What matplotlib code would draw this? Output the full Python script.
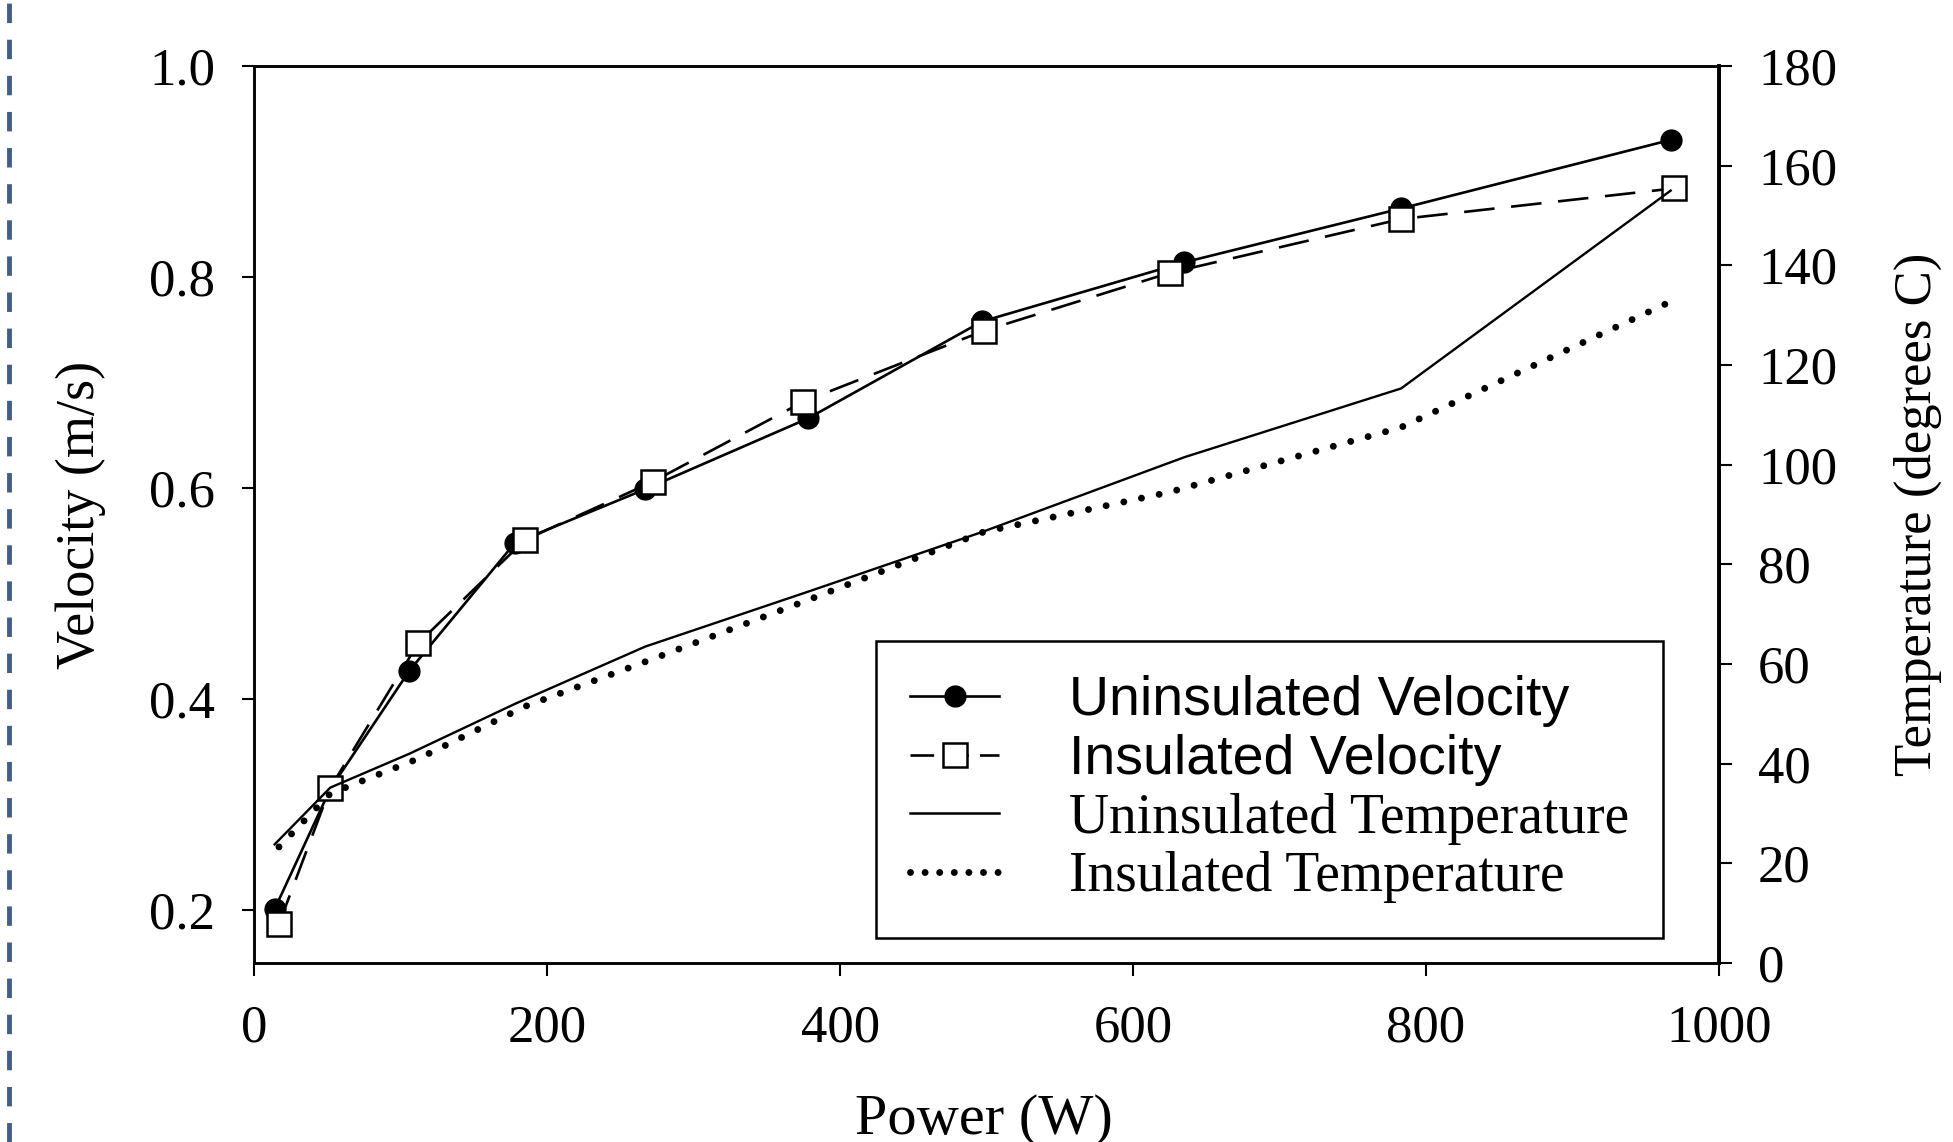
import matplotlib
matplotlib.use('Agg')
import matplotlib.pyplot as plt
from matplotlib.lines import Line2D

plt.rcParams['font.family'] = ['Liberation Serif', 'DejaVu Serif']
plt.rcParams['lines.scale_dashes'] = False

# values
power_unins = [14, 52, 106, 178, 267, 378, 497, 635, 783, 967]
power_ins = [17, 52, 112, 185, 272, 375, 498, 625, 783, 969]
vel_unins = [0.201, 0.315, 0.427, 0.548, 0.599, 0.666, 0.758, 0.814, 0.865, 0.930]
vel_ins = [0.187, 0.316, 0.453, 0.551, 0.606, 0.682, 0.749, 0.804, 0.855, 0.884]
temp_unins = [23.8, 35.2, 42.0, 52.0, 63.5, 74.5, 86.5, 101.5, 115.3, 155.0]
temp_ins = [23.3, 34.0, 41.0, 51.5, 61.0, 72.5, 86.5, 94.5, 107.5, 133.0]

labels = ['Uninsulated Velocity', 'Insulated Velocity',
          'Uninsulated Temperature', 'Insulated Temperature']

fig = plt.figure(figsize=(19.53, 11.42), dpi=100)
ax = fig.add_axes([0.1301, 0.1567, 0.7501, 0.7855])
ax2 = ax.twinx()

# velocity (left axis)
ax.plot(power_unins, vel_unins, color='k', lw=1.9, marker='o', ms=15,
        mfc='k', mec='k', zorder=3)
ax.plot(power_ins, vel_ins, color='k', lw=1.9, dashes=(22, 12), marker='s',
        ms=17, mfc='white', mec='k', mew=1.8, zorder=4)

# temperature (right axis)
ax2.plot(power_unins, temp_unins, color='k', lw=1.7)
ax2.plot(power_ins, temp_ins, color='k', lw=5, dashes=(0.01, 13),
         dash_capstyle='round')

ax.set_xlim(0, 1000)
ax.set_ylim(0.15, 1.0)
ax2.set_ylim(0, 180)
ax.set_xticks(range(0, 1001, 200))
ax.set_yticks([0.2, 0.4, 0.6, 0.8, 1.0])
ax.set_yticklabels(['%.1f' % v for v in [0.2, 0.4, 0.6, 0.8, 1.0]])
ax2.set_yticks(range(0, 181, 20))

for a in (ax, ax2):
    for s in a.spines.values():
        s.set_linewidth(1.8)
    a.tick_params(direction='out', length=9, width=1.5, labelsize=38, pad=19)
ax.tick_params(axis='x', pad=21)
ax2.spines['right'].set_linewidth(2.8)

ax.set_xlabel('Power (W)', fontsize=42)
ax.xaxis.set_label_coords(0.498, -0.146)
ax.set_ylabel('Velocity (m/s)', fontsize=39)
ax.yaxis.set_label_coords(-0.101, 0.5)
ax2.set_ylabel('Temperature (degrees C)', fontsize=38)
ax2.yaxis.set_label_coords(1.119, 0.5)

handles = [
    Line2D([], [], color='k', lw=1.9, marker='o', ms=15, mfc='k'),
    Line2D([], [], color='k', lw=1.9, dashes=(17, 8), marker='s', ms=17,
           mfc='white', mew=1.8),
    Line2D([], [], color='k', lw=1.8),
    Line2D([], [], color='k', lw=5, dashes=(0.01, 10.5), dash_capstyle='round'),
]
leg = fig.legend(handles, labels, loc='upper left',
                 borderaxespad=0, frameon=True, fancybox=False,
                 edgecolor='k', framealpha=1, fontsize=40, handlelength=1.6,
                 handletextpad=1.25, labelspacing=0.12, borderpad=0.62)
leg.set_bbox_to_anchor((0.4485, 0.4387), transform=fig.transFigure)
leg.get_frame().set_linewidth(1.8)
for t in leg.get_texts()[:2]:
    t.set_fontfamily('Liberation Sans')

# dashed blue rule along the left edge
fig.add_artist(Line2D([0.0046, 0.0046], [0, 1], transform=fig.transFigure,
                      color='#3d5f8c', lw=3.5, dashes=(14, 12)))

fig.savefig('out.png', dpi=100)
